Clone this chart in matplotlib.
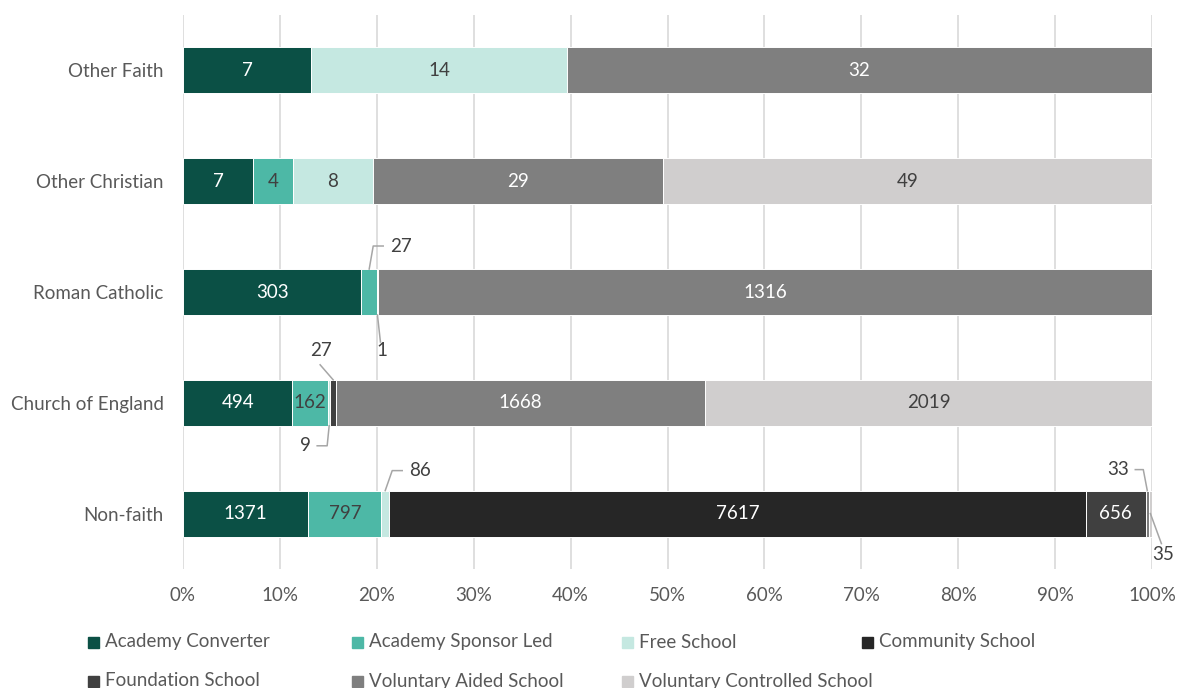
import numpy as np
import matplotlib
matplotlib.use("Agg")
import matplotlib.pyplot as plt
from matplotlib.patches import Rectangle
from matplotlib.lines import Line2D
from matplotlib.transforms import IdentityTransform

plt.rcParams['font.family'] = ['Lato', 'DejaVu Sans']

# --- data -------------------------------------------------------------
categories = ["Other Faith", "Other Christian", "Roman Catholic",
              "Church of England", "Non-faith"]
series_names = ["Academy Converter", "Academy Sponsor Led", "Free School",
                "Community School", "Foundation School",
                "Voluntary Aided School", "Voluntary Controlled School"]
academy_converter = [7, 7, 303, 494, 1371]
academy_sponsor_led = [0, 4, 27, 162, 797]
free_school = [14, 8, 1, 9, 86]
community_school = [0, 0, 0, 0, 7617]
foundation_school = [0, 0, 0, 27, 656]
voluntary_aided = [32, 29, 1316, 1668, 33]
voluntary_controlled = [0, 49, 0, 2019, 35]

colors = ["#0B5045", "#4DB8A6", "#C5E8E1", "#262626",
          "#404040", "#7F7F7F", "#D0CECE"]
label_colors = ["white", "#404040", "#404040", "white",
                "white", "white", "#404040"]

counts = np.array([academy_converter, academy_sponsor_led, free_school,
                   community_school, foundation_school, voluntary_aided,
                   voluntary_controlled], dtype=float)
totals = counts.sum(axis=0)
shares = counts / totals
lefts = np.vstack([np.zeros(len(categories)), np.cumsum(shares, axis=0)[:-1]])

TXT = "#595959"
FS = 13.5
BAR_H = 0.415

fig = plt.figure(figsize=(11.8, 6.88), dpi=100)
ax = fig.add_axes([183 / 1180, 1 - 569 / 688, (1152 - 183) / 1180, (569 - 15) / 688])

y = np.arange(len(categories))
for s in range(len(series_names)):
    nz = counts[s] > 0
    ax.barh(y[nz], shares[s][nz], left=lefts[s][nz], height=BAR_H,
            color=colors[s], edgecolor="white", linewidth=0.7, zorder=2)
    for c in np.where(nz)[0]:
        if shares[s][c] > 0.03:
            ax.text(lefts[s][c] + shares[s][c] / 2, c, f"{int(counts[s][c])}",
                    ha="center", va="center", color=label_colors[s],
                    fontsize=FS, zorder=3)

ax.set_xlim(0, 1)
ax.set_ylim(len(categories) - 0.5, -0.5)
ticks = np.linspace(0, 1, 11)
ax.set_xticks(ticks)
ax.set_xticklabels([f"{int(round(t * 100))}%" for t in ticks])
ax.set_yticks(y)
ax.set_yticklabels(categories)
ax.tick_params(axis="x", length=0, pad=13, labelsize=FS, labelcolor=TXT)
ax.tick_params(axis="y", length=0, pad=14, labelsize=FS, labelcolor=TXT)
ax.grid(axis="x", color="#D9D9D9", linewidth=1.2, zorder=0)
ax.set_axisbelow(True)
for sp in ax.spines.values():
    sp.set_visible(False)

# --- external labels with leader lines ---------------------------------
# (category, series, edge, line path in px (x right, y down), text offset px, ha)
externals = [
    (2, 1, "top", [(0, 0), (4, -23), (14, -23)], (21, -23), "left"),
    (2, 2, "bottom", [(0, 0), (3, 27)], (4, 36), "center"),
    (3, 4, "top", [(0, 0), (-13, -15)], (-12, -29), "center"),
    (3, 2, "bottom", [(0, 0), (-2, 20), (-12, 20)], (-24, 20), "center"),
    (4, 2, "top", [(0, 0), (7, -20), (17, -20)], (24, -20), "left"),
    (4, 5, "top", [(0, 0), (-4, -21), (-12, -21)], (-18, -21), "right"),
    (4, 6, "mid", [(0, 0), (11, 30)], (13, 41), "center"),
]
for c, s, edge, path, toff, ha in externals:
    xa = lefts[s][c] + shares[s][c] / 2
    ya = c + {"top": -BAR_H / 2, "bottom": BAR_H / 2, "mid": 0}[edge]
    px, py = ax.transData.transform((xa, ya))
    line = Line2D([px + dx for dx, dy in path], [py - dy for dx, dy in path],
                  transform=IdentityTransform(), color="#A6A6A6",
                  linewidth=1.1, clip_on=False, zorder=4)
    ax.add_artist(line)
    ax.annotate(f"{int(counts[s][c])}", (xa, ya), xytext=(toff[0], -toff[1]),
                textcoords="offset pixels", ha=ha, va="center",
                color="#404040", fontsize=FS, annotation_clip=False)

# --- legend ------------------------------------------------------------
W, H = 1180, 688
col_x = [88, 352, 622, 862]
row_y = [642, 681]
for i, name in enumerate(series_names):
    lx = col_x[i % 4]
    ly = row_y[i // 4]
    fig.add_artist(Rectangle((lx / W, 1 - (ly + 6) / H), 11 / W, 11 / H,
                             transform=fig.transFigure, color=colors[i]))
    fig.text((lx + 17) / W, 1 - ly / H, name, ha="left", va="center",
             color=TXT, fontsize=FS)

fig.savefig("out.png", dpi=100)
